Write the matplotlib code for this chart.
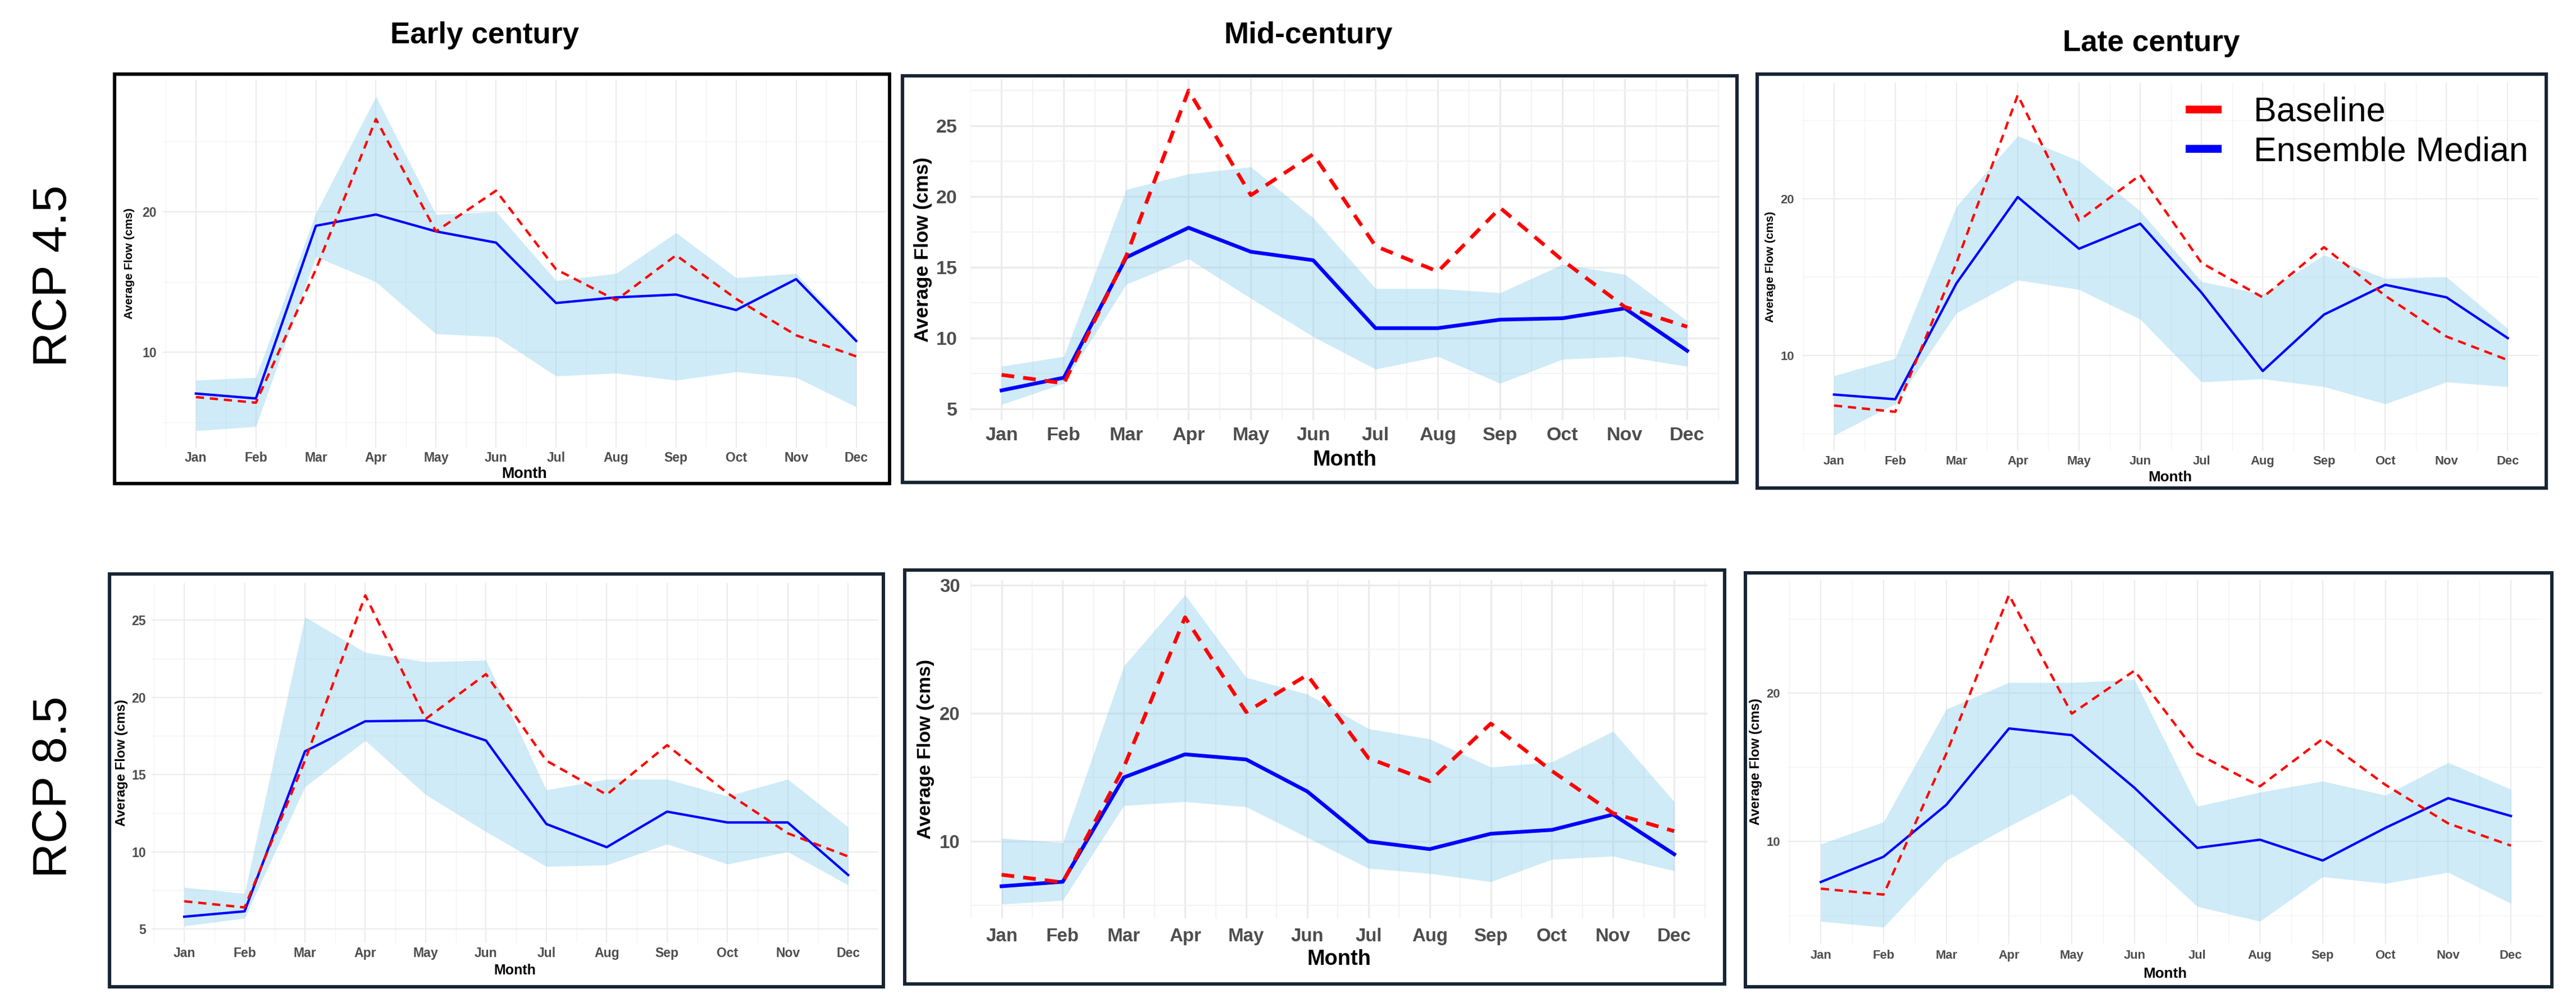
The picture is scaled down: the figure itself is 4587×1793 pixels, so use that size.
import matplotlib
matplotlib.use("Agg")
import matplotlib.pyplot as plt
import matplotlib.font_manager as fm
from matplotlib.lines import Line2D
from matplotlib.patches import Rectangle
import numpy as np

W, H = 4587, 1793

months = ['Jan', 'Feb', 'Mar', 'Apr', 'May', 'Jun',
          'Jul', 'Aug', 'Sep', 'Oct', 'Nov', 'Dec']
col_titles = ['Early century', 'Mid-century', 'Late century']
row_titles = ['RCP 4.5', 'RCP 8.5']
series_names = ['Baseline', 'Ensemble Median']

# baseline flow (cms) as drawn in the early / late panels and in the mid panels
baseline = [6.8, 6.4, 15.9, 26.6, 18.6, 21.5, 15.9, 13.7, 16.9, 13.8, 11.2, 9.7]
baseline_mid = [7.4, 6.8, 15.8, 27.5, 20.1, 23.0, 16.5, 14.7, 19.2, 15.5, 12.2, 10.8]

# RCP 4.5
median_45_early = [7.05, 6.7, 19.0, 19.8, 18.6, 17.8, 13.5, 13.9, 14.1, 13.0, 15.2, 10.8]
lower_45_early = [4.4, 4.7, 16.8, 15.0, 11.3, 11.1, 8.3, 8.5, 8.0, 8.6, 8.2, 6.1]
upper_45_early = [8.0, 8.2, 19.9, 28.2, 19.8, 20.0, 15.1, 15.6, 18.5, 15.3, 15.6, 11.0]

median_45_mid = [6.3, 7.2, 15.7, 17.8, 16.1, 15.5, 10.7, 10.7, 11.3, 11.4, 12.1, 9.1]
lower_45_mid = [5.3, 6.8, 13.8, 15.6, 12.8, 10.1, 7.8, 8.7, 6.8, 8.5, 8.7, 8.0]
upper_45_mid = [8.0, 8.7, 20.5, 21.6, 22.1, 18.5, 13.5, 13.5, 13.2, 15.2, 14.5, 11.2]

median_45_late = [7.5, 7.2, 14.6, 20.1, 16.8, 18.4, 14.0, 9.0, 12.6, 14.5, 13.7, 11.1]
lower_45_late = [4.9, 6.9, 12.7, 14.8, 14.2, 12.3, 8.3, 8.5, 8.0, 6.9, 8.3, 8.0]
upper_45_late = [8.7, 9.8, 19.5, 24.0, 22.4, 19.2, 14.7, 13.9, 16.4, 14.9, 15.0, 11.7]

# RCP 8.5
median_85_early = [5.8, 6.15, 16.5, 18.45, 18.5, 17.2, 11.8, 10.3, 12.6, 11.9, 11.9, 8.5]
lower_85_early = [5.2, 5.7, 14.2, 17.2, 13.7, 11.3, 9.05, 9.15, 10.5, 9.2, 10.0, 7.85]
upper_85_early = [7.7, 7.3, 25.2, 22.9, 22.3, 22.4, 14.0, 14.7, 14.7, 13.6, 14.7, 11.6]

median_85_mid = [6.5, 6.85, 15.0, 16.8, 16.4, 13.9, 10.0, 9.4, 10.6, 10.9, 12.1, 9.0]
lower_85_mid = [5.1, 5.4, 12.8, 13.1, 12.7, 10.3, 7.9, 7.5, 6.85, 8.6, 8.85, 7.7]
upper_85_mid = [10.25, 9.9, 23.7, 29.25, 22.8, 21.5, 18.8, 18.0, 15.8, 16.2, 18.6, 13.1]

median_85_late = [7.25, 8.95, 12.45, 17.6, 17.15, 13.6, 9.55, 10.1, 8.7, 10.9, 12.9, 11.7]
lower_85_late = [4.6, 4.2, 8.7, 11.0, 13.2, 9.5, 5.6, 4.6, 7.6, 7.15, 7.9, 5.8]
upper_85_late = [9.8, 11.3, 18.9, 20.7, 20.7, 20.9, 12.35, 13.3, 14.05, 13.1, 15.3, 13.5]

# layout of each pasted panel, in pixels of the final image
# frame / plot: (left, top, right, bottom); xt_y, xl_y: y centre of tick labels / "Month";
# yt_x, yl_x: x centre of y tick labels / y axis title
panels = [
    dict(base=baseline, med=median_45_early, lo=lower_45_early, hi=upper_45_early,
         frame=(204, 132, 1584, 861), edge='#000000', plot=(290, 142, 1578, 797),
         xlim=(0.45, 12.28), ylim=(3.2, 29.4), major=[10, 20], minor=[5, 15, 25],
         tick_px=23, lab_px=27, ylab_px=21, lw=3.1, xt_y=817, xl_y=844, yt_x=266, yl_x=230),
    dict(base=baseline_mid, med=median_45_mid, lo=lower_45_mid, hi=upper_45_mid,
         frame=(1607, 135, 3093, 859), edge='#172533', plot=(1728, 141, 3062, 748),
         xlim=(0.5, 12.52), ylim=(4.2, 28.3), major=[5, 10, 15, 20, 25],
         minor=[7.5, 12.5, 17.5, 22.5, 27.5],
         tick_px=34, lab_px=38, ylab_px=35, lw=4.8, xt_y=779, xl_y=819, yt_x=1686, yl_x=1643),
    dict(base=baseline, med=median_45_late, lo=lower_45_late, hi=upper_45_late,
         frame=(3129, 132, 4534, 869), edge='#172533', plot=(3209, 147, 4520, 803),
         xlim=(0.48, 12.22), ylim=(3.9, 27.4), major=[10, 20], minor=[5, 15, 25],
         tick_px=22, lab_px=26, ylab_px=21, lw=3.1, xt_y=823, xl_y=850, yt_x=3183, yl_x=3152,
         legend=True),
    dict(base=baseline, med=median_85_early, lo=lower_85_early, hi=upper_85_early,
         frame=(195, 1022, 1573, 1757), edge='#172533', plot=(270, 1038, 1564, 1679),
         xlim=(0.46, 12.18), ylim=(4.1, 27.4), major=[5, 10, 15, 20, 25],
         minor=[7.5, 12.5, 17.5, 22.5],
         tick_px=23, lab_px=25, ylab_px=24, lw=3.1, xt_y=1699, xl_y=1728, yt_x=247, yl_x=216),
    dict(base=baseline_mid, med=median_85_mid, lo=lower_85_mid, hi=upper_85_mid,
         frame=(1611, 1015, 3071, 1752), edge='#172533', plot=(1728, 1033, 3040, 1635),
         xlim=(0.49, 12.54), ylim=(4.0, 30.4), major=[10, 20, 30], minor=[5, 15, 25],
         tick_px=33, lab_px=38, ylab_px=34, lw=4.8, xt_y=1670, xl_y=1708, yt_x=1691, yl_x=1648),
    dict(base=baseline, med=median_85_late, lo=lower_85_late, hi=upper_85_late,
         frame=(3108, 1020, 4544, 1757), edge='#172533', plot=(3183, 1033, 4527, 1680),
         xlim=(0.47, 12.17), ylim=(3.1, 27.6), major=[10, 20], minor=[5, 15, 25],
         tick_px=22, lab_px=26, ylab_px=24, lw=3.1, xt_y=1703, xl_y=1734, yt_x=3158, yl_x=3127),
]

title_pos = [(863, 63), (2330, 63), (3831, 77)]
row_pos = [(96, 491), (96, 1401)]

PT = 0.72  # points per pixel at dpi 100

installed = {f.name for f in fm.fontManager.ttflist}
narrow = 'Liberation Sans Narrow' if 'Liberation Sans Narrow' in installed else 'Liberation Sans'
plt.rcParams['font.family'] = ['Liberation Sans', 'DejaVu Sans']

fig = plt.figure(figsize=(W / 100, H / 100), dpi=100)


def fig_rect(l, t, r, b):
    return [l / W, 1 - b / H, (r - l) / W, (b - t) / H]


x = np.arange(1, 13)
for p in panels:
    l, t, r, b = p['plot']
    ax = fig.add_axes(fig_rect(l, t, r, b))
    ax.fill_between(x, p['lo'], p['hi'], color='skyblue', alpha=0.4, lw=0, zorder=1)
    ax.plot(x, p['base'], color='red', lw=p['lw'], ls=(0, (3.4, 2.4)), zorder=3)
    ax.plot(x, p['med'], color='blue', lw=p['lw'], zorder=2)
    ax.set_xlim(*p['xlim'])
    ax.set_ylim(*p['ylim'])
    ax.set_xticks(x, months)
    ax.set_xticks(np.arange(0.5, 13, 1.0), minor=True)
    ax.set_yticks(p['major'], [str(v) for v in p['major']])
    ax.set_yticks(p['minor'], minor=True)
    scale = p['lw'] / 3.1
    ax.grid(which='major', color='#ebebeb', lw=1.5 * scale)
    ax.grid(which='minor', color='#f3f3f3', lw=1.0 * scale)
    ax.set_axisbelow(True)
    for s in ax.spines.values():
        s.set_visible(False)

    fs = p['tick_px']
    xpad = (p['xt_y'] - b - 0.55 * fs) * PT
    ypad = (l - p['yt_x'] - 0.556 * fs) * PT
    ax.tick_params(which='both', length=0)
    ax.tick_params(axis='x', pad=xpad, labelsize=fs * PT, labelcolor='#4d4d4d')
    ax.tick_params(axis='y', pad=ypad, labelsize=fs * PT, labelcolor='#4d4d4d')
    for lab in ax.get_xticklabels() + ax.get_yticklabels():
        lab.set_fontweight('bold')

    ax.set_xlabel('Month', fontsize=p['lab_px'] * PT, fontweight='bold', color='black')
    ax.xaxis.label.set_va('center')
    ax.xaxis.set_label_coords(0.5, (b - p['xl_y']) / (b - t))
    ax.set_ylabel('Average Flow (cms)', fontsize=p['ylab_px'] * PT,
                  fontweight='bold', color='black')
    ax.yaxis.label.set_va('center')
    ax.yaxis.set_label_coords((p['yl_x'] - l) / (r - l), 0.5)

    if p.get('legend'):
        handles = [Line2D([0], [0], color='red', lw=14 * PT, solid_capstyle='butt'),
                   Line2D([0], [0], color='blue', lw=14 * PT, solid_capstyle='butt')]
        fig.legend(handles, series_names, loc='upper left',
                   bbox_to_anchor=(3892 / W, 1 - 172 / H), frameon=False,
                   fontsize=61 * PT, handlelength=1.05, handletextpad=0.93,
                   labelspacing=0.22, borderpad=0, borderaxespad=0)

    fl, ft, fr, fb = p['frame']
    fig.add_artist(Rectangle((fl / W, 1 - fb / H), (fr - fl) / W, (fb - ft) / H,
                             transform=fig.transFigure, fill=False,
                             ec=p['edge'], lw=6 * PT, zorder=5))

for (cx, cy), txt in zip(title_pos, col_titles):
    fig.text(cx / W, 1 - cy / H, txt, ha='center', va='center',
             fontsize=53 * PT, fontweight='bold', color='black')

row_fs = 100 if narrow != 'Liberation Sans' else 86
for (cx, cy), txt in zip(row_pos, row_titles):
    fig.text(cx / W, 1 - cy / H, txt, ha='center', va='center', rotation=90,
             fontsize=row_fs * PT, family=narrow, color='black')

fig.savefig('out.png', dpi=100, facecolor='white')
